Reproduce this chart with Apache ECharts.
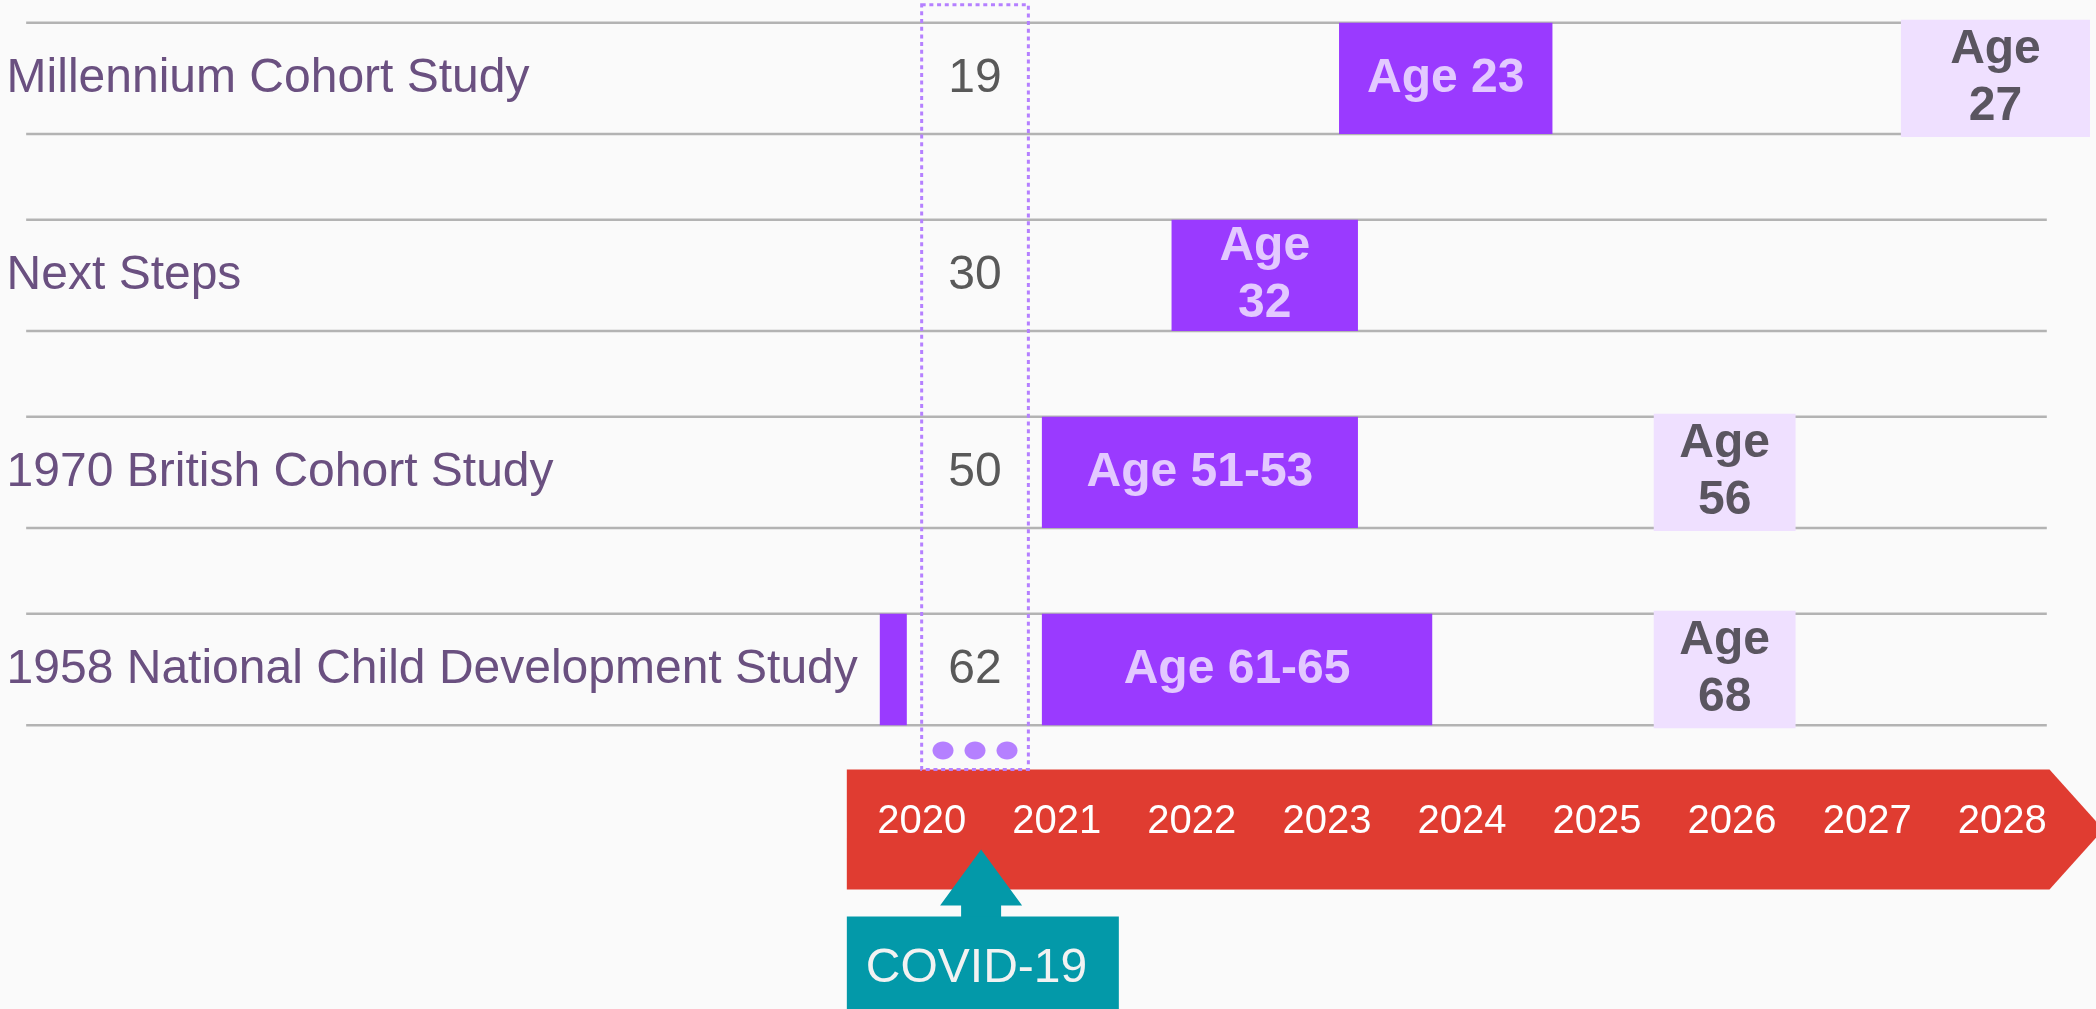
<!DOCTYPE html>
<html>
<head>
<meta charset="utf-8">
<script src="https://cdn.jsdelivr.net/npm/echarts@6/dist/echarts.min.js"></script>
<style>
  html, body { margin: 0; padding: 0; background: #fafafa; }
  #main { width: 2096px; height: 1009px; }
</style>
</head>
<body>
<div id="main"></div>
<script>
// ---------------- DATA ----------------
const studies = [
  'Millennium Cohort Study',
  'Next Steps',
  '1970 British Cohort Study',
  '1958 National Child Development Study'
];
const ageIn2020 = [19, 30, 50, 62];
const years = [2020, 2021, 2022, 2023, 2024, 2025, 2026, 2027, 2028];

// [row index, start (year), end (year), label]
const currentSweeps = [
  [0, 2023.09, 2024.67, 'Age 23'],
  [1, 2021.85, 2023.23, 'Age\n32'],
  [2, 2020.89, 2023.23, 'Age 51-53'],
  [3, 2020.89, 2023.78, 'Age 61-65'],
  [3, 2019.69, 2019.89, '']
];
const plannedSweeps = [
  [0, 2027.25, 2028.65, 'Age\n27'],
  [2, 2025.42, 2026.47, 'Age\n56'],
  [3, 2025.42, 2026.47, 'Age\n68']
];
const covidPeriod = [2020, 2020.79];
const covidMarker = 2020.44;
const covidLabel = 'COVID-19';
const timelineSpan = [2019.446, 2028.35, 2028.75];  // band start, band end, arrow tip
const ruleSpan = [2013.37, 2028.33];

// ---------------- LAYOUT / STYLE ----------------
const FONT = '"Liberation Sans", Arial, sans-serif';
const axisOffset = 152;
const bandFrac = 0.565;
const C = {
  bg: '#fafafa', rule: '#b3b3b3', label: '#6a5080', num: '#595959',
  bar: '#9a3aff', barText: '#e3c9ff', planned: '#efe0ff', plannedText: '#5a5560',
  dotted: '#b580ff', band: '#e03c31', covid: '#0399a9'
};

const chart = echarts.init(document.getElementById('main'), null, { renderer: 'canvas' });

function renderRow(params, api) {
  const i = params.dataIndex;
  const p0 = api.coord([ruleSpan[0], i]);
  const p1 = api.coord([ruleSpan[1], i]);
  const cy = p0[1];
  const h = api.size([0, 1])[1] * bandFrac;
  const xm = api.coord([(covidPeriod[0] + covidPeriod[1]) / 2, i])[0];
  return {
    type: 'group',
    children: [
      { type: 'line', shape: { x1: p0[0], y1: cy - h / 2, x2: p1[0], y2: cy - h / 2 },
        style: { stroke: C.rule, lineWidth: 2.5 } },
      { type: 'line', shape: { x1: p0[0], y1: cy + h / 2, x2: p1[0], y2: cy + h / 2 },
        style: { stroke: C.rule, lineWidth: 2.5 } },
      { type: 'text', style: { text: String(ageIn2020[i]), x: xm, y: cy, align: 'center',
        verticalAlign: 'middle', font: '48px ' + FONT, fill: C.num } }
    ]
  };
}

function makeSweepRenderer(list, fill, textFill, extra) {
  return function (params, api) {
    const s = list[params.dataIndex];
    const a = api.coord([s[1], s[0]]);
    const b = api.coord([s[2], s[0]]);
    const h = api.size([0, 1])[1] * bandFrac + extra;
    return {
      type: 'group',
      children: [
        { type: 'rect', shape: { x: a[0], y: a[1] - h / 2, width: b[0] - a[0], height: h },
          style: { fill: fill } },
        { type: 'text', style: { text: s[3], x: (a[0] + b[0]) / 2, y: a[1], align: 'center',
          verticalAlign: 'middle', font: 'bold 48px ' + FONT, fill: textFill, lineHeight: 57 } }
      ]
    };
  };
}

function renderAnnotations(params, api) {
  const n = studies.length;
  const first = api.coord([covidPeriod[0], 0]);
  const lastY = api.coord([covidPeriod[0], n - 1])[1];
  const h = api.size([0, 1])[1] * bandFrac;
  const bandMid = lastY + axisOffset + 8;
  const bandTop = bandMid - 60, bandBot = bandMid + 60;
  const tl0 = api.coord([timelineSpan[0], 0])[0];
  const tl1 = api.coord([timelineSpan[1], 0])[0];
  const tip = api.coord([timelineSpan[2], 0])[0];
  const bx0 = first[0];
  const bx1 = api.coord([covidPeriod[1], 0])[0];
  const boxTop = first[1] - h / 2 - 18;
  const bxm = (bx0 + bx1) / 2;
  const mx = api.coord([covidMarker, 0])[0];
  const children = [
    { type: 'polygon', shape: { points: [[tl0, bandTop], [tl1, bandTop], [tip, bandMid], [tl1, bandBot], [tl0, bandBot]] },
      style: { fill: C.band }, z2: 1 },
    { type: 'rect', shape: { x: bx0, y: boxTop, width: bx1 - bx0, height: bandTop - boxTop },
      style: { fill: null, stroke: C.dotted, lineWidth: 3, lineDash: [4, 3.7] }, z2: 5 },
    // COVID arrow + box
    { type: 'polygon', shape: { points: [[mx, bandBot - 40], [mx + 41, bandBot + 16], [mx + 20, bandBot + 16],
        [mx + 20, bandBot + 28], [mx - 20, bandBot + 28], [mx - 20, bandBot + 16], [mx - 41, bandBot + 16]] },
      style: { fill: C.covid }, z2: 10 },
    { type: 'rect', shape: { x: tl0, y: bandBot + 27, width: 272, height: 120 },
      style: { fill: C.covid }, z2: 10 },
    { type: 'text', style: { text: covidLabel, x: tl0 + 19, y: bandBot + 79, align: 'left',
      verticalAlign: 'middle', font: '48px ' + FONT, fill: '#f2f2f2' }, z2: 11 }
  ];
  [-32, 0, 32].forEach(function (d) {
    children.push({ type: 'ellipse', shape: { cx: bxm + d, cy: bandTop - 19, rx: 10.5, ry: 9 },
      style: { fill: C.dotted }, z2: 6 });
  });
  return { type: 'group', children: children };
}

const option = {
  backgroundColor: C.bg,
  animation: false,
  grid: { left: 786.6, right: 0, top: 78.3, bottom: 339.5, containLabel: false },
  xAxis: {
    type: 'value', min: 2019, max: 2028.672, interval: 1,
    position: 'bottom', offset: axisOffset,
    axisLine: { show: false }, axisTick: { show: false }, splitLine: { show: false },
    axisLabel: {
      show: true, margin: 0, verticalAlign: 'middle', color: '#ffffff',
      fontSize: 40, fontFamily: FONT,
      formatter: function (v) { return years.indexOf(v) >= 0 ? String(v) : ''; }
    },
    z: 20
  },
  yAxis: {
    type: 'category', data: studies, inverse: true, boundaryGap: false,
    axisLine: { show: false }, axisTick: { show: false }, splitLine: { show: false },
    axisLabel: { align: 'left', margin: 780, fontSize: 48, fontFamily: FONT, color: C.label }
  },
  series: [
    { type: 'custom', name: 'rows', renderItem: renderRow, silent: true, z: 2,
      encode: { x: 0, y: 1 }, data: studies.map(function (s, i) { return [ruleSpan[0], i]; }) },
    { type: 'custom', name: 'annotations', renderItem: renderAnnotations, silent: true, z: 3,
      encode: { x: 0, y: 1 }, data: [[covidMarker, 0]] },
    { type: 'custom', name: 'current', renderItem: makeSweepRenderer(currentSweeps, C.bar, C.barText, 0), silent: true, z: 4,
      encode: { x: [0, 2], y: 1 }, data: currentSweeps.map(function (s) { return [s[1], s[0], s[2]]; }) },
    { type: 'custom', name: 'planned', renderItem: makeSweepRenderer(plannedSweeps, C.planned, C.plannedText, 6), silent: true, z: 4,
      encode: { x: [0, 2], y: 1 }, data: plannedSweeps.map(function (s) { return [s[1], s[0], s[2]]; }) }
  ]
};
chart.setOption(option);
</script>
</body>
</html>
